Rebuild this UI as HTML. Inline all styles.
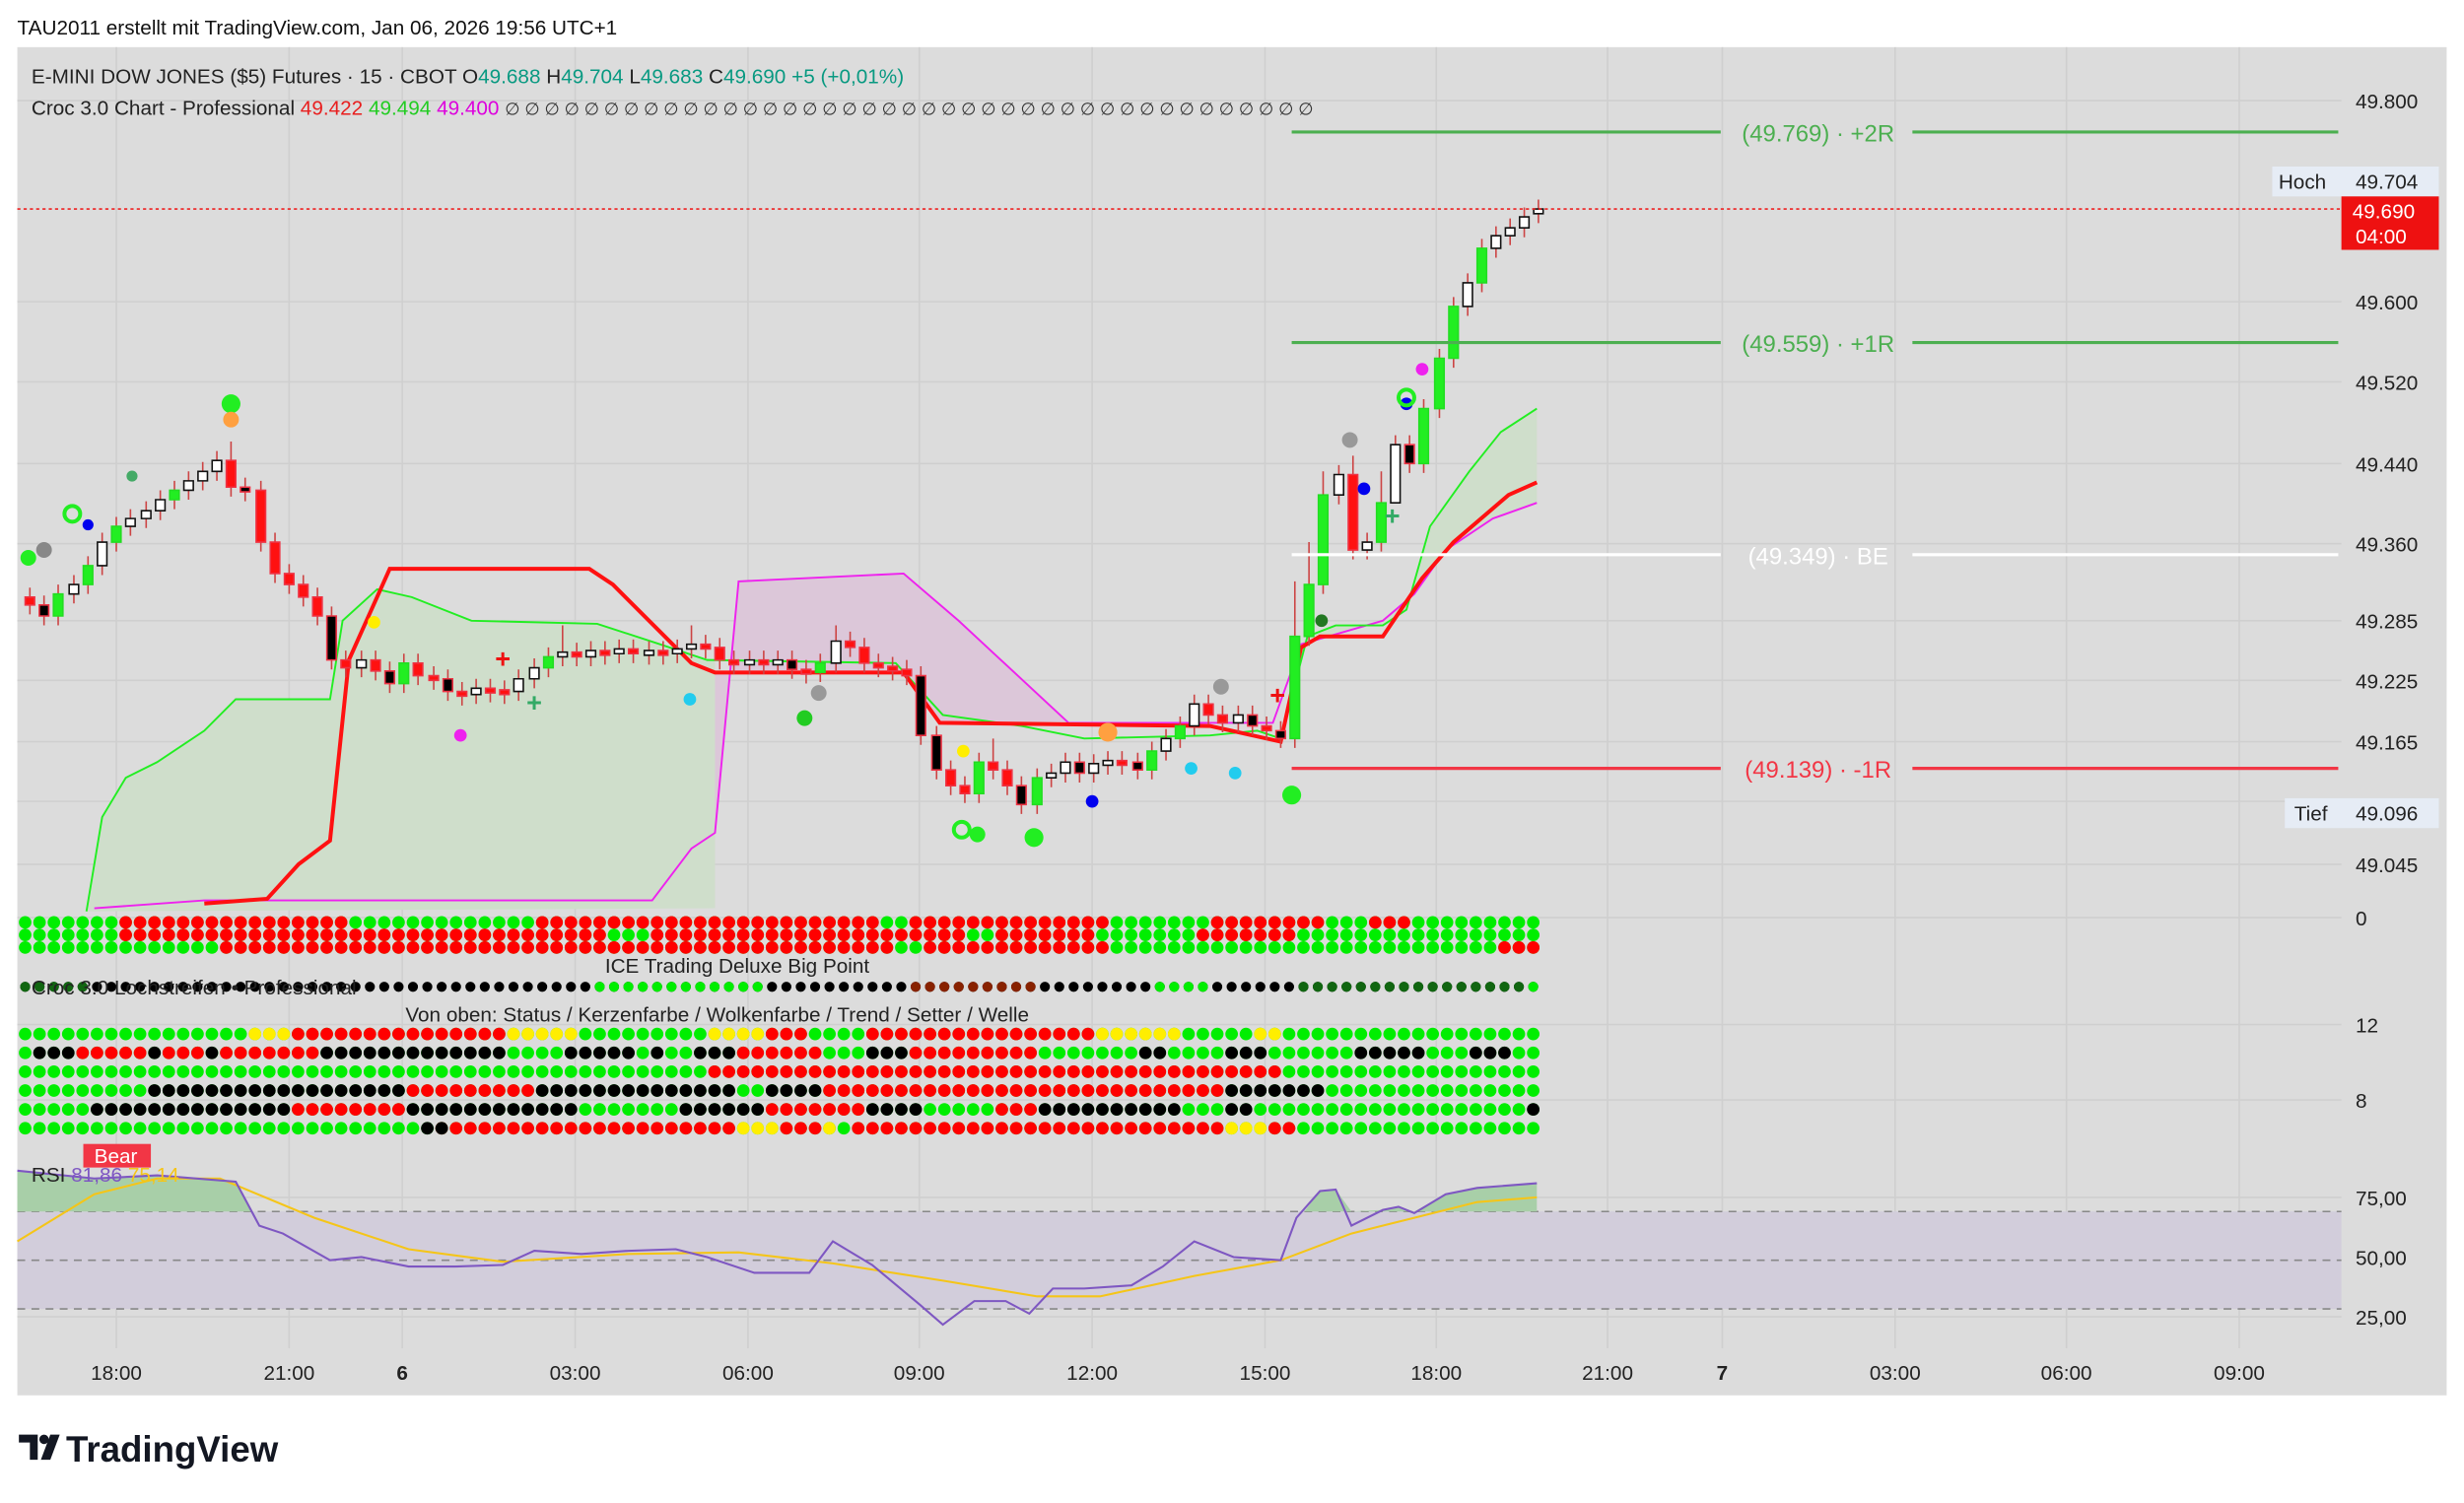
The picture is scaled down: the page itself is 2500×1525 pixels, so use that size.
<!DOCTYPE html>
<html><head><meta charset="utf-8"><style>
html,body{margin:0;padding:0;background:#fff;}
svg{display:block;font-family:"Liberation Sans",sans-serif;}
</style></head><body>
<svg width="2500" height="1525" viewBox="0 0 1568 956.5" xmlns="http://www.w3.org/2000/svg">
<rect width="1568" height="957" fill="#fff"/>
<text x="11" y="22" font-size="13" fill="#111">TAU2011 erstellt mit TradingView.com, Jan 06, 2026 19:56 UTC+1</text>
<rect x="11" y="30" width="1546" height="858" fill="#dcdcdc"/>
<!-- grid -->
<g stroke="#cfcfcf" stroke-width="1">
<path d="M74 30V858M184 30V858M256 30V858M366 30V858M476 30V858M585 30V858M695 30V858M805 30V858M914 30V858M1023 30V858M1096 30V858M1206 30V858M1315 30V858M1425 30V858"/>
<path d="M11 64H1490M11 192H1490M11 243H1490M11 295H1490M11 346H1490M11 395H1490M11 433H1490M11 472H1490M11 510H1490M11 550H1490M11 584H1490M11 652H1490M11 700H1490M11 762H1490M11 800H1490M11 838H1490"/>
</g>
<!-- fills -->
<polygon points="55,580 65,520 80,495 100,485 130,465 150,445 210,445 218,395 240,375 262,380 300,395 380,397 420,410 450,420 455,420 455,578" fill="#cfdecb"/>
<polygon points="455,530 470,370 575,365 610,395 680,460 690,462 598,460 575,428 455,428" fill="#dcc7d9"/>
<polygon points="832,405 850,398 880,398 895,388 910,335 935,300 955,275 978,260 978,320 950,330 920,350 900,378 880,395 828,410" fill="#cfdecb"/>
<g fill="none">
<polyline points="60,578 130,573 415,573 440,540 455,530 470,370 575,365 610,395 680,460 810,460 828,410 880,395 900,378 920,350 950,330 978,320" stroke="#ee22ee" stroke-width="1.2"/>
<polyline points="55,580 65,520 80,495 100,485 130,465 150,445 210,445 218,395 240,375 262,380 300,395 380,397 420,410 450,420 570,422 600,455 650,462 690,470 770,468 800,465 815,470 832,405 850,398 880,398 895,388 910,335 935,300 955,275 978,260" stroke="#22ee22" stroke-width="1.2"/>
<polyline points="130,575 170,572 190,550 210,535 222,420 248,362 375,362 390,372 440,422 455,428 575,428 598,460 770,462 815,472 828,412 840,405 880,405 905,368 925,345 960,315 978,307" stroke="#ff1111" stroke-width="2.5"/>
</g>
<!-- wicks -->
<path stroke="#c44" stroke-width="1" fill="none" d="M19 374V391M28 379V398M37 372V398M47 366V384M56 354V378M65 339V366M74 329V351M83 324V341M93 319V336M102 312V331M111 306V324M120 300V318M129 294V312M138 287V306M147 281V316M156 304V319M166 306V351M175 339V371M184 359V378M193 366V386M202 374V398M211 386V426M220 414V431M230 414V431M239 414V433M248 421V441M257 416V441M266 416V436M276 424V439M285 426V446M294 434V449M303 432V448M312 432V447M321 433V448M330 426V446M340 419V438M349 412V431M358 398V424M367 409V424M376 408V424M385 408V423M394 407V422M403 407V422M413 408V423M422 408V423M431 407V422M440 398V419M449 404V419M458 406V426M467 414V429M477 414V429M486 414V429M495 414V429M504 414V432M513 420V435M522 416V434M532 398V428M541 402V418M550 406V428M559 416V431M568 418V433M577 420V436M586 424V474M596 462V496M605 484V506M614 494V511M623 479V511M632 470V496M641 484V506M650 494V518M660 489V518M669 486V501M678 479V498M687 479V498M696 480V498M705 478V493M714 478V493M724 479V496M733 472V496M742 464V484M751 456V476M760 442V468M769 442V461M778 449V466M788 449V466M797 449V468M806 456V471M815 459V476M824 370V476M833 345V411M842 300V378M852 296V321M861 290V356M870 339V356M879 300V351M888 277V300M897 277V301M906 254V301M916 222V266M925 189V234M934 174V201M943 152V186M952 144V164M961 139V156M970 132V151M979 127V142"/>
<!-- bodies -->
<path fill="#22ee22" stroke="#22dd22" d="M34 378h6v14h-6zM53 360h6v12h-6zM71 335h6v10h-6zM108 312h6v6h-6zM254 422h6v13h-6zM346 418h6v7h-6zM519 422h6v6h-6zM620 485h6v20h-6zM657 495h6v17h-6zM730 478h6v12h-6zM748 462h6v8h-6zM821 405h6v65h-6zM830 372h6v33h-6zM839 315h6v57h-6zM876 320h6v25h-6zM903 260h6v35h-6zM913 228h6v32h-6zM922 195h6v33h-6zM940 158h6v22h-6z"/>
<path fill="#fff" stroke="#111" d="M44 372h6v6h-6zM62 345h6v15h-6zM80 330h6v5h-6zM90 325h6v5h-6zM99 318h6v7h-6zM117 306h6v6h-6zM126 300h6v6h-6zM135 293h6v7h-6zM227 420h6v5h-6zM300 438h6v4h-6zM327 432h6v8h-6zM337 425h6v7h-6zM355 415h6v3h-6zM373 414h6v4h-6zM391 413h6v3h-6zM410 414h6v3h-6zM428 413h6v3h-6zM437 410h6v3h-6zM474 420h6v3h-6zM492 420h6v3h-6zM529 408h6v14h-6zM666 492h6v3h-6zM675 485h6v7h-6zM693 486h6v6h-6zM702 484h6v3h-6zM739 470h6v8h-6zM757 448h6v14h-6zM785 455h6v5h-6zM849 302h6v13h-6zM867 345h6v5h-6zM885 283h6v37h-6zM931 180h6v15h-6zM949 150h6v8h-6zM958 145h6v5h-6zM967 138h6v7h-6zM976 133h6v3h-6z"/>
<path fill="#000" stroke="#e34" d="M25 385h6v7h-6zM153 310h6v3h-6zM208 392h6v28h-6zM245 427h6v8h-6zM282 432h6v8h-6zM501 420h6v6h-6zM583 430h6v38h-6zM593 468h6v22h-6zM647 500h6v12h-6zM684 485h6v7h-6zM721 485h6v5h-6zM794 455h6v7h-6zM812 465h6v5h-6zM894 283h6v12h-6z"/>
<path fill="#ff1111" stroke="#e34" d="M16 380h6v5h-6zM144 293h6v17h-6zM163 312h6v33h-6zM172 345h6v20h-6zM181 365h6v7h-6zM190 372h6v8h-6zM199 380h6v12h-6zM217 420h6v5h-6zM236 420h6v7h-6zM263 422h6v8h-6zM273 430h6v3h-6zM291 440h6v3h-6zM309 438h6v3h-6zM318 439h6v3h-6zM364 415h6v3h-6zM382 414h6v3h-6zM400 413h6v3h-6zM419 414h6v3h-6zM446 410h6v3h-6zM455 412h6v8h-6zM464 420h6v3h-6zM483 420h6v3h-6zM510 426h6v3h-6zM538 408h6v4h-6zM547 412h6v10h-6zM556 422h6v3h-6zM565 424h6v3h-6zM574 426h6v4h-6zM602 490h6v10h-6zM611 500h6v5h-6zM629 485h6v5h-6zM638 490h6v10h-6zM711 484h6v3h-6zM766 448h6v7h-6zM775 455h6v5h-6zM803 462h6v3h-6zM858 302h6v48h-6z"/>
<!-- markers -->
<circle cx="147" cy="257" r="6" fill="#22ee22"/><circle cx="147" cy="267" r="5" fill="#ffa040"/>
<circle cx="18" cy="355" r="5" fill="#22ee22"/><circle cx="28" cy="350" r="5" fill="#888"/>
<circle cx="56" cy="334" r="3.5" fill="#0000ee"/><circle cx="84" cy="303" r="3.5" fill="#44aa66"/>
<circle cx="238" cy="396" r="4" fill="#ffee00"/><circle cx="293" cy="468" r="4" fill="#ee22ee"/>
<circle cx="439" cy="445" r="4" fill="#22ccee"/><circle cx="512" cy="457" r="5" fill="#22cc22"/>
<circle cx="521" cy="441" r="5" fill="#999"/><circle cx="613" cy="478" r="4" fill="#ffee00"/>
<circle cx="622" cy="531" r="5" fill="#22ee22"/><circle cx="658" cy="533" r="6" fill="#22ee22"/>
<circle cx="695" cy="510" r="4" fill="#0000ee"/><circle cx="705" cy="466" r="6" fill="#ffa040"/>
<circle cx="758" cy="489" r="4" fill="#22ccee"/><circle cx="777" cy="437" r="5" fill="#999"/>
<circle cx="786" cy="492" r="4" fill="#22ccee"/><circle cx="822" cy="506" r="6" fill="#22ee22"/>
<circle cx="841" cy="395" r="4" fill="#227722"/><circle cx="859" cy="280" r="5" fill="#999"/>
<circle cx="868" cy="311" r="4" fill="#0000ee"/><circle cx="895" cy="257" r="4" fill="#0000ee"/>
<circle cx="905" cy="235" r="4" fill="#ee22ee"/>
<g fill="none" stroke="#22ee22" stroke-width="2.5"><circle cx="46" cy="327" r="5"/><circle cx="612" cy="528" r="5"/><circle cx="895" cy="253" r="5"/></g>
<g font-size="17" font-weight="bold" text-anchor="middle"><text x="320" y="425" fill="#ee1111">+</text><text x="340" y="453" fill="#33aa66">+</text><text x="813" y="448" fill="#ee1111">+</text><text x="886" y="334" fill="#33aa66">+</text></g>
<!-- dot rows -->
<g stroke-linecap="round" stroke-dasharray="0 9.14" fill="none" stroke-width="8">
<g stroke="#00ee00"><path d="M16 587H976.2M16 595H976.2M16 603H976.2M16 658H976.2M16 670H976.2M16 682H976.2M16 694H976.2M16 706H976.2M16 718H976.2"/></g>
<path stroke="#ff0000" d="M79.98 587H217.6M345.04 587H555.8M582.68 587H702M774.62 587H839.1M875.16 587H894M79.98 595H382.1M418.16 595H610.6M637.52 595H692.9M765.48 595H820.8M143.96 603H564.9M591.82 603H702M957.42 603H976.2"/>
<path stroke="#ffee00" d="M162.24 658H181M326.76 658H363.8M454.72 658H482.6M701.5 658H747.7M802.04 658H811.7"/>
<path stroke="#ff0000" d="M189.66 658H318.1M491.28 658H518.2M555.26 658H692.9M52.56 670H89.6M107.4 670H126.2M143.96 670H199.3M473 670H519.2M582.68 670H656.3M454.72 682H811.7M262.78 694H336.4M527.84 694H783.4M189.66 706H254.1M491.28 706H546.6M637.52 706H656.3M281.06 718H464.3M500.42 718H519.2M546.12 718H783.4M811.18 718H820.8"/>
<path stroke="#000" d="M25.14 670H44M207.94 670H318.1M363.32 670H400.4M445.58 670H464.3M555.26 670H574M728.92 670H738.5M783.76 670H802.5M866.02 670H903M939.14 670H957.9M98.26 694H254.1M345.04 694H464.3M491.28 694H519.2M783.76 694H839.1M61.7 706H181M262.78 706H363.8M436.44 706H482.6M555.26 706H583.2M664.94 706H747.7M783.76 706H793.4M271.92 718H281.5"/>
<path stroke="#ffee00" d="M473 718H491.7M783.76 718H802.5"/>
</g>
<circle cx="98.3" cy="670" r="4" fill="#000"/><circle cx="134.8" cy="670" r="4" fill="#000"/><circle cx="418.2" cy="670" r="4" fill="#000"/><circle cx="975.7" cy="706" r="4" fill="#000"/><circle cx="527.8" cy="718" r="4" fill="#ffee00"/>
<g stroke-linecap="round" stroke-dasharray="0 9.14" fill="none" stroke-width="6.4">
<path stroke="#000" d="M16 628H976.2"/>
<path stroke="#116611" d="M16 628H53M829.46 628H967"/>
<path stroke="#00ee00" d="M381.6 628H482.6M738.06 628H766M975.7 628H976.2"/>
<path stroke="#882200" d="M582.68 628H656.3"/>
</g>
<!-- RSI -->
<rect x="11" y="771" width="1479" height="62" fill="#d2cddb"/>
<path d="M11 771H1490M11 802H1490M11 833H1490" stroke="#888" stroke-dasharray="5,4"/>
<polygon points="11,771 11,745 60,750 100,748 150,752 160,771" fill="#a8cfa8"/>
<polygon points="830,771 840,758 850,757 860,771 880,770 890,768 900,771 920,760 940,756 978,753 978,771" fill="#a8cfa8"/>
<polyline fill="none" stroke="#f5c518" stroke-width="1.3" points="11,790 60,760 100,750 140,750 200,775 260,795 320,803 400,798 470,797 530,804 600,815 660,825 700,825 760,812 815,802 860,785 900,775 940,765 978,762"/>
<polyline fill="none" stroke="#7e57c2" stroke-width="1.3" points="11,745 60,750 100,748 150,752 165,780 180,785 210,802 230,800 260,806 290,806 320,805 340,796 370,798 400,796 430,795 450,800 480,810 515,810 530,790 555,805 585,830 600,843 620,828 640,828 655,836 670,820 690,820 720,818 740,806 760,790 785,800 815,802 825,775 840,758 850,757 860,780 880,770 890,768 900,772 920,760 940,756 978,753"/>
<!-- levels -->
<line x1="11" y1="133" x2="1490" y2="133" stroke="#ee2222" stroke-dasharray="2,2"/>
<g stroke-width="2">
<path d="M822 84H1095M1217 84H1488M822 218H1095M1217 218H1488" stroke="#4caf50"/>
<path d="M822 353H1095M1217 353H1488" stroke="#fff"/>
<path d="M822 489H1095M1217 489H1488" stroke="#f23645"/>
</g>
<g font-size="15" text-anchor="middle">
<text x="1157" y="90" fill="#4caf50">(49.769) · +2R</text>
<text x="1157" y="224" fill="#4caf50">(49.559) · +1R</text>
<text x="1157" y="359" fill="#fff">(49.349) · BE</text>
<text x="1157" y="495" fill="#f23645">(49.139) · -1R</text>
</g>
<rect x="1446" y="106" width="106" height="19" fill="#e6ecf5"/>
<rect x="1490" y="125" width="62" height="34" fill="#ee1111"/>
<rect x="1454" y="508" width="98" height="19" fill="#e6ecf5"/>
<g font-size="13" fill="#222">
<text x="1450" y="120">Hoch</text><text x="1499" y="120">49.704</text>
<text x="1497" y="139" fill="#fff">49.690</text><text x="1499" y="155" fill="#fff">04:00</text>
<text x="1460" y="522">Tief</text><text x="1499" y="522">49.096</text>
<text x="1499" y="69">49.800</text><text x="1499" y="197">49.600</text><text x="1499" y="248">49.520</text><text x="1499" y="300">49.440</text><text x="1499" y="351">49.360</text><text x="1499" y="400">49.285</text><text x="1499" y="438">49.225</text><text x="1499" y="477">49.165</text><text x="1499" y="555">49.045</text>
<text x="1499" y="589">0</text><text x="1499" y="657">12</text><text x="1499" y="705">8</text>
<text x="1499" y="767">75,00</text><text x="1499" y="805">50,00</text><text x="1499" y="843">25,00</text>
</g>
<g font-size="13" fill="#222" text-anchor="middle">
<text x="74" y="878">18:00</text><text x="184" y="878">21:00</text><text x="256" y="878" font-weight="bold">6</text><text x="366" y="878">03:00</text><text x="476" y="878">06:00</text><text x="585" y="878">09:00</text><text x="695" y="878">12:00</text><text x="805" y="878">15:00</text><text x="914" y="878">18:00</text><text x="1023" y="878">21:00</text><text x="1096" y="878" font-weight="bold">7</text><text x="1206" y="878">03:00</text><text x="1315" y="878">06:00</text><text x="1425" y="878">09:00</text>
</g>
<g font-size="13" fill="#222">
<text x="20" y="53">E-MINI DOW JONES ($5) Futures · 15 · CBOT  O<tspan fill="#089981">49.688</tspan>  H<tspan fill="#089981">49.704</tspan>  L<tspan fill="#089981">49.683</tspan>  C<tspan fill="#089981">49.690</tspan> <tspan fill="#089981">+5 (+0,01%)</tspan></text>
<text x="20" y="73">Croc 3.0 Chart - Professional <tspan fill="#e81e1e">49.422</tspan> <tspan fill="#22cc22">49.494</tspan> <tspan fill="#dd00dd">49.400</tspan> <tspan fill="#333" font-size="11">∅ ∅ ∅ ∅ ∅ ∅ ∅ ∅ ∅ ∅ ∅ ∅ ∅ ∅ ∅ ∅ ∅ ∅ ∅ ∅ ∅ ∅ ∅ ∅ ∅ ∅ ∅ ∅ ∅ ∅ ∅ ∅ ∅ ∅ ∅ ∅ ∅ ∅ ∅ ∅ ∅</tspan></text>
<text x="385" y="619">ICE Trading Deluxe Big Point</text>
<text x="20" y="633">Croc 3.0 Lochstreifen • Professional</text>
<text x="258" y="650">Von oben: Status / Kerzenfarbe / Wolkenfarbe / Trend / Setter / Welle</text>
<rect x="53" y="728" width="43" height="15" fill="#f23645"/><text x="60" y="740" fill="#fff">Bear</text>
<text x="20" y="752">RSI <tspan fill="#7e57c2">81,86</tspan> <tspan fill="#f5c518">75,14</tspan></text>
</g>
<g transform="translate(12,910)">
<path d="M0 3h12v16h-5v-11h-7z M14 19l6-16h6l-6 16z" fill="#131722"/><circle cx="16" cy="6" r="3" fill="#131722"/>
<text x="30" y="20" font-size="23" font-weight="bold" fill="#131722">TradingView</text></g>
</svg>
</body></html>
